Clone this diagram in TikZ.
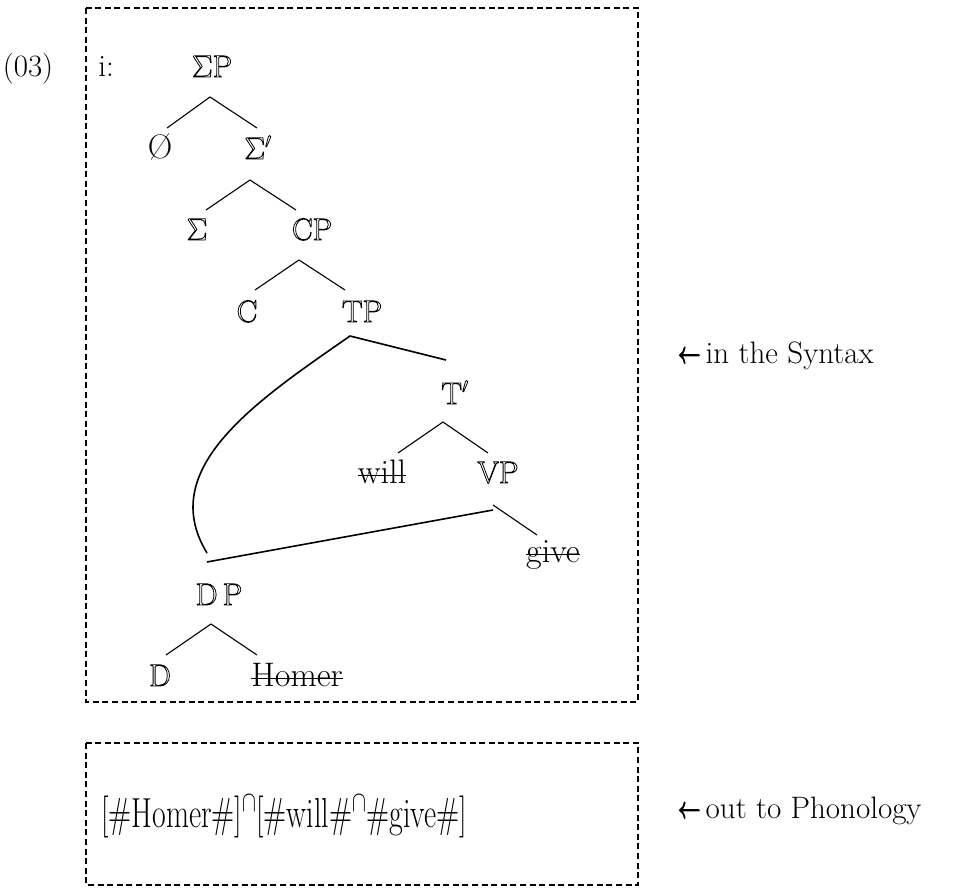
\RequirePackage{fix-cm}
\documentclass[tikz,border=0pt]{standalone}
\usepackage{graphicx}
\newsavebox\strkbox
\newcommand\strk[1]{\sbox\strkbox{#1}\rlap{\usebox\strkbox}\rule[0.2em]{\wd\strkbox}{1.4pt}}
\newcommand\dbl[1]{\special{pdf:literal direct 1 Tr 0.8 w}#1\special{pdf:literal direct 0 Tr}}
\newcommand\bolder[1]{\special{pdf:literal direct 2 Tr 1.1 w}#1\special{pdf:literal direct 0 Tr}}
\newcommand\larr{\scalebox{0.72}[1]{\bolder{$\leftarrow$}}}
\newcommand\fsz[1]{\fontsize{#1}{#1}\selectfont}
\tikzset{
  lab/.style={anchor=base,inner sep=0pt,font=\fsz{31}},
  dlab/.style={anchor=base,inner sep=0pt,font=\fsz{31}},
  wlab/.style={anchor=base,inner sep=0pt,font=\fsz{34}},
  side/.style={anchor=base west,inner sep=0pt,font=\fsz{31}},
  thin/.style={line width=1.1pt},
  thick/.style={line width=1.6pt},
  dashbox/.style={line width=1.3pt,dash pattern=on 6pt off 3.6pt}
}
\begin{document}
\begin{tikzpicture}[x=1pt,y=-1pt]
\useasboundingbox (0,0) rectangle (964,888);
% boxes
\draw[dashbox] (86,8) rectangle (638,702);
\draw[dashbox] (86,743) rectangle (638,885);
% labels
\node[lab] (ex) at (28,77) {(03)};
\node[lab] (ii) at (106,77) {i:};
\node[dlab] (sp) at (212,77) {\dbl{$\Sigma$P}};
\node[wlab] (phi) at (160,159) {\O};
\node[dlab] (sbar) at (258,159) {\dbl{$\Sigma'$}};
\node[dlab] (sig) at (197,240) {\dbl{$\Sigma$}};
\node[dlab] (cp) at (312,240) {\dbl{CP}};
\node[dlab] (c) at (247,322) {\dbl{C}};
\node[dlab] (tp) at (362,322) {\dbl{TP}};
\node[dlab] (tbar) at (455,404) {\dbl{T$'$}};
\node[wlab] (will) at (382,483) {\strk{will}};
\node[dlab] (vp) at (498,483) {\dbl{VP}};
\node[wlab] (give) at (553,562) {\strk{give}};
\node[dlab] (dp) at (219,605) {\dbl{D\,P}};
\node[dlab] (d) at (160,686) {\dbl{D}};
\node[wlab] (homer) at (297,686) {\strk{Homer}};
\node[side] (syn) at (678,363) {\larr\,in the Syntax};
\node[side] (pho) at (678,818) {\larr\,out to Phonology};
\node[anchor=base west,inner sep=0pt] (str) at (101,827)
  {\scalebox{0.71}[1]{\fsz{42}[\#Homer\#]$^{\cap}$[\#will\#$^{\cap}$\#give\#]}};
% tree
\draw[thin] ([shift={(7,-31)}]phi.base) -- ([shift={(-2,20)}]sp.base) -- ([shift={(-1,-31)}]sbar.base);
\draw[thin] ([shift={(9,-30)}]sig.base) -- ([shift={(-8,21)}]sbar.base) -- ([shift={(-16,-30)}]cp.base);
\draw[thin] ([shift={(8,-32)}]c.base) -- ([shift={(-13,20)}]cp.base) -- ([shift={(-17,-32)}]tp.base);
\draw[thick] ([shift={(-12,-52)}]dp.base) .. controls (155,468) and (258,400) .. ([shift={(-12,14)}]tp.base) -- ([shift={(-9,-44)}]tbar.base);
\draw[thin] ([shift={(16,-30)}]will.base) -- ([shift={(-12,18)}]tbar.base) -- ([shift={(-10,-30)}]vp.base);
\draw[thin] ([shift={(-5,22)}]vp.base) -- ([shift={(-16,-27)}]give.base);
\draw[thick] ([shift={(-5,27)}]vp.base) -- ([shift={(-12,-43)}]dp.base);
\draw[thin] ([shift={(6,-31)}]d.base) -- ([shift={(-8,19)}]dp.base) -- ([shift={(-40,-31)}]homer.base);
\end{tikzpicture}
\end{document}
